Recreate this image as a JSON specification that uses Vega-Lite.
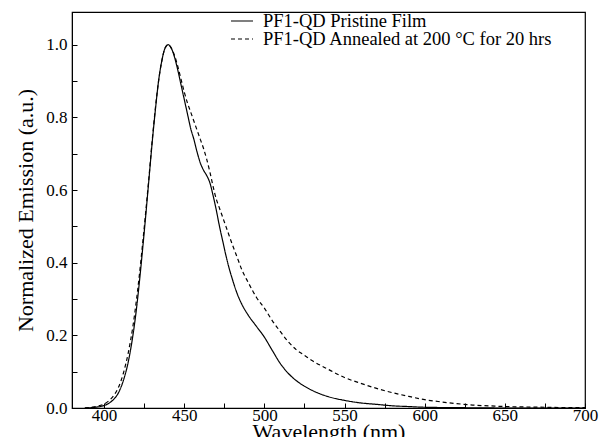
{
  "$schema": "https://vega.github.io/schema/vega-lite/v6.json",
  "autosize": "none",
  "width": 513,
  "height": 396,
  "padding": {"left": 72, "top": 12, "right": 14, "bottom": 29},
  "background": "white",
  "config": {
    "view": {"stroke": "black", "strokeWidth": 1.2},
    "font": "Times New Roman, Liberation Serif, serif",
    "axis": {
      "labelFont": "Times New Roman, Liberation Serif, serif",
      "titleFont": "Times New Roman, Liberation Serif, serif",
      "labelColor": "black",
      "titleColor": "black",
      "domainColor": "black",
      "tickColor": "black",
      "grid": false,
      "labelFontSize": 17,
      "titleFontSize": 22,
      "titleFontWeight": "normal"
    },
    "legend": {
      "labelFont": "Times New Roman, Liberation Serif, serif",
      "labelFontSize": 18.5,
      "labelColor": "black"
    }
  },
  "data": {
    "values": [
      {"wl": 388, "v": 0.0, "s": "PF1-QD Pristine Film"},
      {"wl": 392, "v": 0.001, "s": "PF1-QD Pristine Film"},
      {"wl": 396, "v": 0.003, "s": "PF1-QD Pristine Film"},
      {"wl": 400, "v": 0.007, "s": "PF1-QD Pristine Film"},
      {"wl": 403, "v": 0.013, "s": "PF1-QD Pristine Film"},
      {"wl": 406, "v": 0.024, "s": "PF1-QD Pristine Film"},
      {"wl": 409, "v": 0.042, "s": "PF1-QD Pristine Film"},
      {"wl": 412, "v": 0.075, "s": "PF1-QD Pristine Film"},
      {"wl": 415, "v": 0.125, "s": "PF1-QD Pristine Film"},
      {"wl": 418, "v": 0.2, "s": "PF1-QD Pristine Film"},
      {"wl": 420, "v": 0.265, "s": "PF1-QD Pristine Film"},
      {"wl": 422, "v": 0.345, "s": "PF1-QD Pristine Film"},
      {"wl": 424, "v": 0.435, "s": "PF1-QD Pristine Film"},
      {"wl": 426, "v": 0.53, "s": "PF1-QD Pristine Film"},
      {"wl": 428, "v": 0.63, "s": "PF1-QD Pristine Film"},
      {"wl": 430, "v": 0.73, "s": "PF1-QD Pristine Film"},
      {"wl": 432, "v": 0.82, "s": "PF1-QD Pristine Film"},
      {"wl": 434, "v": 0.9, "s": "PF1-QD Pristine Film"},
      {"wl": 436, "v": 0.955, "s": "PF1-QD Pristine Film"},
      {"wl": 438, "v": 0.99, "s": "PF1-QD Pristine Film"},
      {"wl": 440, "v": 1.0, "s": "PF1-QD Pristine Film"},
      {"wl": 442, "v": 0.99, "s": "PF1-QD Pristine Film"},
      {"wl": 444, "v": 0.965, "s": "PF1-QD Pristine Film"},
      {"wl": 446, "v": 0.93, "s": "PF1-QD Pristine Film"},
      {"wl": 448, "v": 0.89, "s": "PF1-QD Pristine Film"},
      {"wl": 450, "v": 0.85, "s": "PF1-QD Pristine Film"},
      {"wl": 452, "v": 0.81, "s": "PF1-QD Pristine Film"},
      {"wl": 454, "v": 0.77, "s": "PF1-QD Pristine Film"},
      {"wl": 456, "v": 0.74, "s": "PF1-QD Pristine Film"},
      {"wl": 458, "v": 0.705, "s": "PF1-QD Pristine Film"},
      {"wl": 460, "v": 0.675, "s": "PF1-QD Pristine Film"},
      {"wl": 462, "v": 0.655, "s": "PF1-QD Pristine Film"},
      {"wl": 464, "v": 0.64, "s": "PF1-QD Pristine Film"},
      {"wl": 466, "v": 0.62, "s": "PF1-QD Pristine Film"},
      {"wl": 468, "v": 0.585, "s": "PF1-QD Pristine Film"},
      {"wl": 470, "v": 0.545, "s": "PF1-QD Pristine Film"},
      {"wl": 472, "v": 0.5, "s": "PF1-QD Pristine Film"},
      {"wl": 474, "v": 0.46, "s": "PF1-QD Pristine Film"},
      {"wl": 476, "v": 0.42, "s": "PF1-QD Pristine Film"},
      {"wl": 478, "v": 0.385, "s": "PF1-QD Pristine Film"},
      {"wl": 480, "v": 0.355, "s": "PF1-QD Pristine Film"},
      {"wl": 483, "v": 0.315, "s": "PF1-QD Pristine Film"},
      {"wl": 486, "v": 0.285, "s": "PF1-QD Pristine Film"},
      {"wl": 490, "v": 0.255, "s": "PF1-QD Pristine Film"},
      {"wl": 495, "v": 0.225, "s": "PF1-QD Pristine Film"},
      {"wl": 500, "v": 0.195, "s": "PF1-QD Pristine Film"},
      {"wl": 505, "v": 0.158, "s": "PF1-QD Pristine Film"},
      {"wl": 510, "v": 0.122, "s": "PF1-QD Pristine Film"},
      {"wl": 515, "v": 0.095, "s": "PF1-QD Pristine Film"},
      {"wl": 520, "v": 0.075, "s": "PF1-QD Pristine Film"},
      {"wl": 525, "v": 0.06, "s": "PF1-QD Pristine Film"},
      {"wl": 530, "v": 0.048, "s": "PF1-QD Pristine Film"},
      {"wl": 540, "v": 0.031, "s": "PF1-QD Pristine Film"},
      {"wl": 550, "v": 0.021, "s": "PF1-QD Pristine Film"},
      {"wl": 560, "v": 0.014, "s": "PF1-QD Pristine Film"},
      {"wl": 570, "v": 0.01, "s": "PF1-QD Pristine Film"},
      {"wl": 580, "v": 0.006, "s": "PF1-QD Pristine Film"},
      {"wl": 590, "v": 0.004, "s": "PF1-QD Pristine Film"},
      {"wl": 600, "v": 0.002, "s": "PF1-QD Pristine Film"},
      {"wl": 620, "v": 0.001, "s": "PF1-QD Pristine Film"},
      {"wl": 650, "v": 0.0, "s": "PF1-QD Pristine Film"},
      {"wl": 700, "v": 0.0, "s": "PF1-QD Pristine Film"},
      {"wl": 388, "v": 0.0, "s": "PF1-QD Annealed at 200 °C for 20 hrs"},
      {"wl": 392, "v": 0.002, "s": "PF1-QD Annealed at 200 °C for 20 hrs"},
      {"wl": 396, "v": 0.005, "s": "PF1-QD Annealed at 200 °C for 20 hrs"},
      {"wl": 400, "v": 0.011, "s": "PF1-QD Annealed at 200 °C for 20 hrs"},
      {"wl": 403, "v": 0.02, "s": "PF1-QD Annealed at 200 °C for 20 hrs"},
      {"wl": 406, "v": 0.034, "s": "PF1-QD Annealed at 200 °C for 20 hrs"},
      {"wl": 409, "v": 0.057, "s": "PF1-QD Annealed at 200 °C for 20 hrs"},
      {"wl": 412, "v": 0.095, "s": "PF1-QD Annealed at 200 °C for 20 hrs"},
      {"wl": 415, "v": 0.15, "s": "PF1-QD Annealed at 200 °C for 20 hrs"},
      {"wl": 418, "v": 0.225, "s": "PF1-QD Annealed at 200 °C for 20 hrs"},
      {"wl": 420, "v": 0.29, "s": "PF1-QD Annealed at 200 °C for 20 hrs"},
      {"wl": 422, "v": 0.365, "s": "PF1-QD Annealed at 200 °C for 20 hrs"},
      {"wl": 424, "v": 0.45, "s": "PF1-QD Annealed at 200 °C for 20 hrs"},
      {"wl": 426, "v": 0.54, "s": "PF1-QD Annealed at 200 °C for 20 hrs"},
      {"wl": 428, "v": 0.635, "s": "PF1-QD Annealed at 200 °C for 20 hrs"},
      {"wl": 430, "v": 0.735, "s": "PF1-QD Annealed at 200 °C for 20 hrs"},
      {"wl": 432, "v": 0.825, "s": "PF1-QD Annealed at 200 °C for 20 hrs"},
      {"wl": 434, "v": 0.9, "s": "PF1-QD Annealed at 200 °C for 20 hrs"},
      {"wl": 436, "v": 0.955, "s": "PF1-QD Annealed at 200 °C for 20 hrs"},
      {"wl": 438, "v": 0.99, "s": "PF1-QD Annealed at 200 °C for 20 hrs"},
      {"wl": 440, "v": 1.0, "s": "PF1-QD Annealed at 200 °C for 20 hrs"},
      {"wl": 442, "v": 0.99, "s": "PF1-QD Annealed at 200 °C for 20 hrs"},
      {"wl": 444, "v": 0.97, "s": "PF1-QD Annealed at 200 °C for 20 hrs"},
      {"wl": 446, "v": 0.94, "s": "PF1-QD Annealed at 200 °C for 20 hrs"},
      {"wl": 448, "v": 0.905, "s": "PF1-QD Annealed at 200 °C for 20 hrs"},
      {"wl": 450, "v": 0.87, "s": "PF1-QD Annealed at 200 °C for 20 hrs"},
      {"wl": 452, "v": 0.84, "s": "PF1-QD Annealed at 200 °C for 20 hrs"},
      {"wl": 454, "v": 0.815, "s": "PF1-QD Annealed at 200 °C for 20 hrs"},
      {"wl": 456, "v": 0.79, "s": "PF1-QD Annealed at 200 °C for 20 hrs"},
      {"wl": 458, "v": 0.765, "s": "PF1-QD Annealed at 200 °C for 20 hrs"},
      {"wl": 460, "v": 0.74, "s": "PF1-QD Annealed at 200 °C for 20 hrs"},
      {"wl": 462, "v": 0.715, "s": "PF1-QD Annealed at 200 °C for 20 hrs"},
      {"wl": 464, "v": 0.685, "s": "PF1-QD Annealed at 200 °C for 20 hrs"},
      {"wl": 466, "v": 0.65, "s": "PF1-QD Annealed at 200 °C for 20 hrs"},
      {"wl": 468, "v": 0.61, "s": "PF1-QD Annealed at 200 °C for 20 hrs"},
      {"wl": 470, "v": 0.575, "s": "PF1-QD Annealed at 200 °C for 20 hrs"},
      {"wl": 472, "v": 0.55, "s": "PF1-QD Annealed at 200 °C for 20 hrs"},
      {"wl": 474, "v": 0.525, "s": "PF1-QD Annealed at 200 °C for 20 hrs"},
      {"wl": 476, "v": 0.5, "s": "PF1-QD Annealed at 200 °C for 20 hrs"},
      {"wl": 478, "v": 0.475, "s": "PF1-QD Annealed at 200 °C for 20 hrs"},
      {"wl": 480, "v": 0.45, "s": "PF1-QD Annealed at 200 °C for 20 hrs"},
      {"wl": 483, "v": 0.415, "s": "PF1-QD Annealed at 200 °C for 20 hrs"},
      {"wl": 486, "v": 0.38, "s": "PF1-QD Annealed at 200 °C for 20 hrs"},
      {"wl": 490, "v": 0.345, "s": "PF1-QD Annealed at 200 °C for 20 hrs"},
      {"wl": 495, "v": 0.305, "s": "PF1-QD Annealed at 200 °C for 20 hrs"},
      {"wl": 500, "v": 0.275, "s": "PF1-QD Annealed at 200 °C for 20 hrs"},
      {"wl": 505, "v": 0.24, "s": "PF1-QD Annealed at 200 °C for 20 hrs"},
      {"wl": 510, "v": 0.21, "s": "PF1-QD Annealed at 200 °C for 20 hrs"},
      {"wl": 515, "v": 0.182, "s": "PF1-QD Annealed at 200 °C for 20 hrs"},
      {"wl": 520, "v": 0.16, "s": "PF1-QD Annealed at 200 °C for 20 hrs"},
      {"wl": 525, "v": 0.145, "s": "PF1-QD Annealed at 200 °C for 20 hrs"},
      {"wl": 530, "v": 0.13, "s": "PF1-QD Annealed at 200 °C for 20 hrs"},
      {"wl": 540, "v": 0.106, "s": "PF1-QD Annealed at 200 °C for 20 hrs"},
      {"wl": 550, "v": 0.084, "s": "PF1-QD Annealed at 200 °C for 20 hrs"},
      {"wl": 560, "v": 0.068, "s": "PF1-QD Annealed at 200 °C for 20 hrs"},
      {"wl": 570, "v": 0.054, "s": "PF1-QD Annealed at 200 °C for 20 hrs"},
      {"wl": 580, "v": 0.042, "s": "PF1-QD Annealed at 200 °C for 20 hrs"},
      {"wl": 590, "v": 0.032, "s": "PF1-QD Annealed at 200 °C for 20 hrs"},
      {"wl": 600, "v": 0.023, "s": "PF1-QD Annealed at 200 °C for 20 hrs"},
      {"wl": 610, "v": 0.017, "s": "PF1-QD Annealed at 200 °C for 20 hrs"},
      {"wl": 620, "v": 0.012, "s": "PF1-QD Annealed at 200 °C for 20 hrs"},
      {"wl": 630, "v": 0.008, "s": "PF1-QD Annealed at 200 °C for 20 hrs"},
      {"wl": 640, "v": 0.006, "s": "PF1-QD Annealed at 200 °C for 20 hrs"},
      {"wl": 650, "v": 0.004, "s": "PF1-QD Annealed at 200 °C for 20 hrs"},
      {"wl": 660, "v": 0.003, "s": "PF1-QD Annealed at 200 °C for 20 hrs"},
      {"wl": 675, "v": 0.002, "s": "PF1-QD Annealed at 200 °C for 20 hrs"},
      {"wl": 690, "v": 0.001, "s": "PF1-QD Annealed at 200 °C for 20 hrs"},
      {"wl": 700, "v": 0.001, "s": "PF1-QD Annealed at 200 °C for 20 hrs"}
    ]
  },
  "mark": {"type": "line", "color": "black", "strokeWidth": 1.2, "interpolate": "monotone", "clip": true},
  "encoding": {
    "x": {
      "field": "wl", "type": "quantitative",
      "scale": {"domain": [380, 700], "nice": false, "zero": false},
      "axis": {
        "title": "Wavelength (nm)",
        "values": [400, 425, 450, 475, 500, 525, 550, 575, 600, 625, 650, 675, 700],
        "labelExpr": "datum.value % 50 === 0 ? datum.value : ''",
        "tickSize": -5,
        "labelPadding": 4,
        "titlePadding": -2,
        "labelFlush": false
      }
    },
    "y": {
      "field": "v", "type": "quantitative",
      "scale": {"domain": [0, 1.09], "nice": false},
      "axis": {
        "title": "Normalized Emission (a.u.)",
        "values": [0, 0.1, 0.2, 0.3, 0.4, 0.5, 0.6, 0.7, 0.8, 0.9, 1.0],
        "labelExpr": "round(datum.value * 10) % 2 === 0 ? format(datum.value, '.1f') : ''",
        "tickSize": -5,
        "labelPadding": 10,
        "titlePadding": 8,
        "labelFlush": false
      }
    },
    "strokeDash": {
      "field": "s", "type": "nominal",
      "scale": {
        "domain": ["PF1-QD Pristine Film", "PF1-QD Annealed at 200 °C for 20 hrs"],
        "range": [[1, 0], [4, 3]]
      },
      "legend": {
        "title": null,
        "orient": "none",
        "legendX": 158,
        "legendY": 1,
        "symbolType": "stroke",
        "symbolSize": 484,
        "clipHeight": 16,
        "symbolStrokeColor": "black",
        "symbolStrokeWidth": 1.2,
        "labelOffset": 9,
        "labelLimit": 400,
        "rowPadding": -1
      }
    }
  }
}
